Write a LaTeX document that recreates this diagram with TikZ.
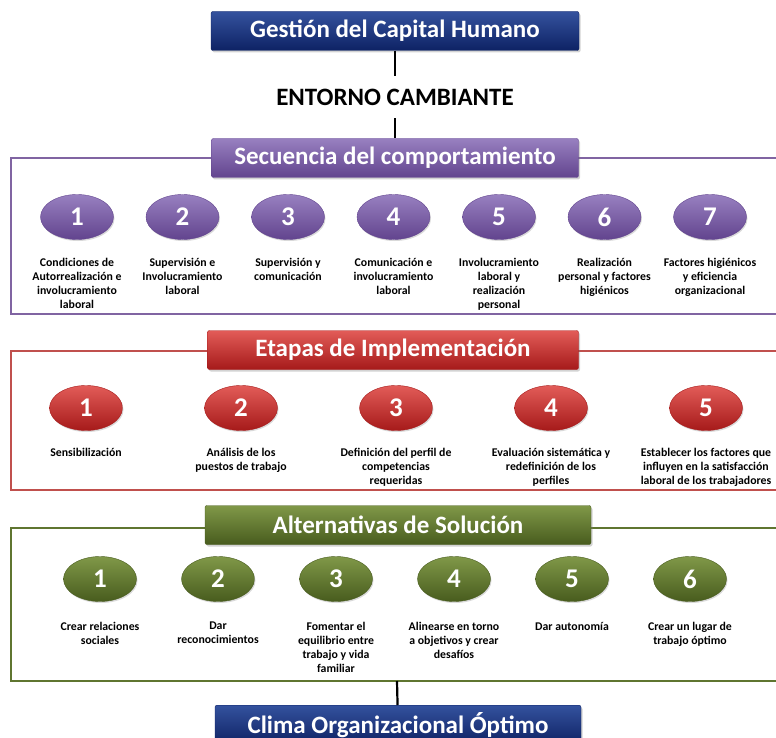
\documentclass[tikz,border=0pt]{standalone}
\usepackage{fontspec}
\setmainfont{Carlito}
\usetikzlibrary{shapes.geometric,shadows}
\definecolor{navydark}{RGB}{14,34,100}
\definecolor{navylight}{RGB}{52,82,158}
\definecolor{purpdark}{RGB}{98,68,142}
\definecolor{purplight}{RGB}{152,128,192}
\definecolor{purpline}{RGB}{128,100,162}
\definecolor{reddark}{RGB}{166,26,26}
\definecolor{redlight}{RGB}{226,92,88}
\definecolor{redline}{RGB}{192,80,77}
\definecolor{greendark}{RGB}{72,92,30}
\definecolor{greenlight}{RGB}{128,152,72}
\definecolor{greenline}{RGB}{95,117,48}

\tikzset{
  headbox/.style={rectangle, rounded corners=2pt, minimum height=39pt, text=white,
    font=\bfseries\fontsize{25}{28}\selectfont,
    drop shadow={opacity=0.35, shadow xshift=1.5pt, shadow yshift=-2pt}},
  navybox/.style={headbox, top color=navylight, bottom color=navydark, draw=navydark},
  purpbox/.style={headbox, top color=purplight, bottom color=purpdark, draw=purpdark},
  redbox/.style={headbox, top color=redlight, bottom color=reddark, draw=reddark},
  greenbox/.style={headbox, top color=greenlight, bottom color=greendark, draw=greendark},
  numoval/.style={ellipse, minimum width=73pt, minimum height=45pt, inner sep=0pt,
    text=white, font=\bfseries\fontsize{27}{28}\selectfont,
    drop shadow={opacity=0.3, shadow xshift=1pt, shadow yshift=-1.5pt}},
  purpoval/.style={numoval, top color=purplight, bottom color=purpdark, draw=purpdark},
  redoval/.style={numoval, top color=redlight, bottom color=reddark, draw=reddark},
  greenoval/.style={numoval, top color=greenlight, bottom color=greendark, draw=greendark},
  steptext/.style={anchor=north, align=center, inner sep=0pt,
    font=\bfseries\fontsize{11.8}{14}\selectfont},
  link/.style={line width=2.2pt, black}
}

\begin{document}
\begin{tikzpicture}[x=1pt,y=-1pt]
\useasboundingbox (0,0) rectangle (776,738);
\clip (0,0) rectangle (776,738);

% top of the chart
\node[navybox, minimum width=368pt] (gestion) at (395,31) {Gestión del Capital Humano};
\node[font=\bfseries\fontsize{25}{28}\selectfont, minimum height=42pt, inner sep=0pt] (entorno) at (395,97) {ENTORNO CAMBIANTE};

% frames
\draw[purpline, line width=2.6pt] (11,158) rectangle (800,314);
\draw[redline, line width=2.6pt] (11,351) rectangle (800,490);
\draw[greenline, line width=2.6pt] (11,528) rectangle (800,681);
\coordinate (gbot) at (397,681);

% section titles
\node[purpbox, minimum width=367pt] (secuencia) at (395,158) {Secuencia del comportamiento};
\node[redbox, minimum width=371pt] (etapas) at (393,350) {Etapas de Implementación};
\node[greenbox, minimum width=386pt] (alternativas) at (398,525) {Alternativas de Solución};
\node[navybox, minimum width=366pt, anchor=north] (clima) at (398,705) {Clima Organizacional Óptimo};

\draw[link] (gestion) -- (entorno);
\draw[link] (entorno) -- (secuencia);
\draw[link] (gbot) -- (clima);

% Secuencia del comportamiento
\foreach \n/\txt [count=\i from 0] in {
  1/{Condiciones de\\Autorrealización e\\involucramiento\\laboral},
  2/{Supervisión e\\Involucramiento\\laboral},
  3/{Supervisión y\\comunicación},
  4/{Comunicación e\\involucramiento\\laboral},
  5/{Involucramiento\\laboral y\\realización\\personal},
  6/{Realización\\personal y factores\\higiénicos},
  7/{Factores higiénicos\\y eficiencia\\organizacional}}{
  \node[purpoval] (sec\n) at (77+105.5*\i,217) {\n};
  \node[steptext] (sectxt\n) at (77+105.5*\i,258) {\txt};
}

% Etapas de Implementación
\foreach \n/\txt [count=\i from 0] in {
  1/{Sensibilización},
  2/{Análisis de los\\puestos de trabajo},
  3/{Definición del perfil de\\competencias\\requeridas},
  4/{Evaluación sistemática y\\redefinición de los\\perfiles},
  5/{Establecer los factores que\\influyen en la satisfacción\\laboral de los trabajadores}}{
  \node[redoval] (eta\n) at (86+155*\i,408) {\n};
  \node[steptext] (etatxt\n) at (86+155*\i,448) {\txt};
}

% Alternativas de Solución
\foreach \n/\txt [count=\i from 0] in {
  1/{Crear relaciones\\sociales},
  2/{Dar\\reconocimientos},
  3/{Fomentar el\\equilibrio entre\\trabajo y vida\\familiar},
  4/{Alinearse en torno\\a objetivos y crear\\desafíos},
  5/{Dar autonomía},
  6/{Crear un lugar de\\trabajo óptimo}}{
  \node[greenoval] (alt\n) at (100+118*\i,579) {\n};
  \node[steptext] (alttxt\n) at (100+118*\i,622) {\txt};
}
\end{tikzpicture}
\end{document}
